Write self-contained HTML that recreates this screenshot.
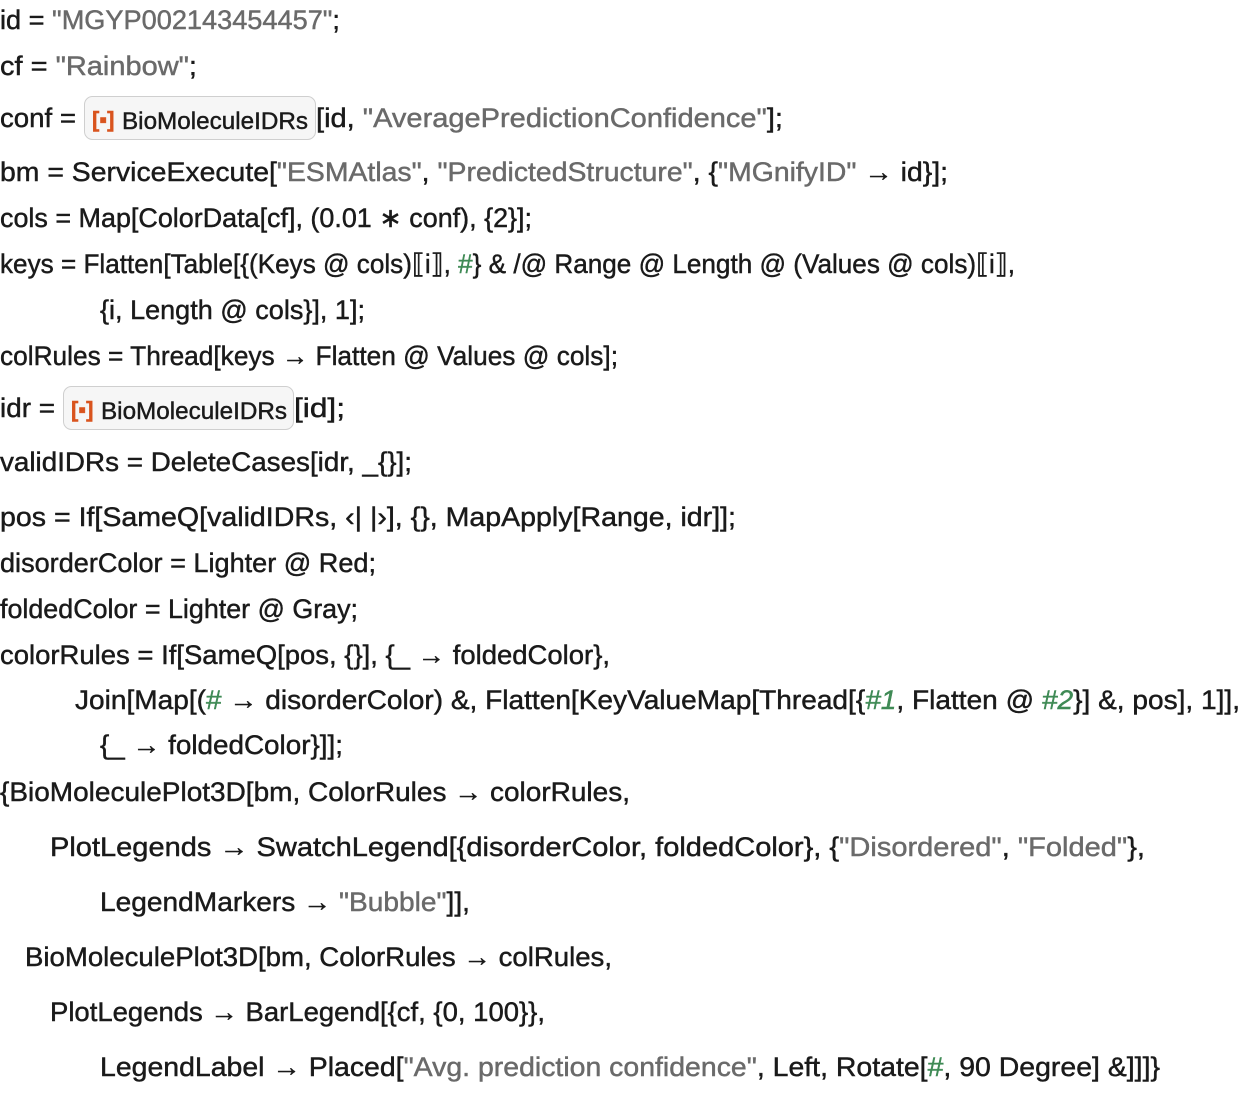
<!DOCTYPE html>
<html><head><meta charset="utf-8"><style>
html,body{margin:0;padding:0;background:#fff;width:1242px;height:1094px;overflow:hidden}
svg{display:block}
text{font-family:"Liberation Sans",sans-serif;font-size:27px;fill:#1a1a1a;stroke:#1a1a1a;stroke-width:0.45px}
.s{fill:#6a6a6a;stroke:#6a6a6a}
.g{fill:#3f8a55;stroke:#3f8a55;font-style:italic}
.gn{fill:#3f8a55;stroke:#3f8a55}
.b{font-size:24px}
.o{fill:#d9541e;stroke:#d9541e;font-size:22px;font-weight:bold}
</style></head><body>
<svg width="1242" height="1094" xmlns="http://www.w3.org/2000/svg">
<text x="0" y="29" textLength="340" lengthAdjust="spacingAndGlyphs">id = <tspan class="s">"MGYP002143454457"</tspan>;</text>
<text x="0" y="75" textLength="197" lengthAdjust="spacingAndGlyphs">cf = <tspan class="s">"Rainbow"</tspan>;</text>
<text x="0" y="127" textLength="76" lengthAdjust="spacingAndGlyphs">conf =</text>
<rect x="84.5" y="96.5" width="231" height="43" rx="8" fill="#f6f6f6" stroke="#cfcfcf"/>
<text x="92" y="127" class="o">[▪]</text>
<text x="122" y="129" class="b" textLength="186" lengthAdjust="spacingAndGlyphs">BioMoleculeIDRs</text>
<text x="316" y="127" textLength="467" lengthAdjust="spacingAndGlyphs">[id, <tspan class="s">"AveragePredictionConfidence"</tspan>];</text>
<text x="0" y="181" textLength="948" lengthAdjust="spacingAndGlyphs">bm = ServiceExecute[<tspan class="s">"ESMAtlas"</tspan>, <tspan class="s">"PredictedStructure"</tspan>, {<tspan class="s">"MGnifyID"</tspan> → id}];</text>
<text x="0" y="227" textLength="532" lengthAdjust="spacingAndGlyphs">cols = Map[ColorData[cf], (0.01 ∗ conf), {2}];</text>
<text x="0" y="273" textLength="1015" lengthAdjust="spacingAndGlyphs">keys = Flatten[Table[{(Keys @ cols)⟦i⟧, <tspan class="gn">#</tspan>} &amp; /@ Range @ Length @ (Values @ cols)⟦i⟧,</text>
<text x="100" y="319" textLength="265" lengthAdjust="spacingAndGlyphs">{i, Length @ cols}], 1];</text>
<text x="0" y="365" textLength="618" lengthAdjust="spacingAndGlyphs">colRules = Thread[keys → Flatten @ Values @ cols];</text>
<text x="0" y="417" textLength="55" lengthAdjust="spacingAndGlyphs">idr =</text>
<rect x="63.5" y="386.5" width="230" height="43" rx="8" fill="#f6f6f6" stroke="#cfcfcf"/>
<text x="71" y="417" class="o">[▪]</text>
<text x="101" y="419" class="b" textLength="186" lengthAdjust="spacingAndGlyphs">BioMoleculeIDRs</text>
<text x="294" y="417" textLength="51" lengthAdjust="spacingAndGlyphs">[id];</text>
<text x="0" y="471" textLength="412" lengthAdjust="spacingAndGlyphs">validIDRs = DeleteCases[idr, _{}];</text>
<text x="0" y="526" textLength="736" lengthAdjust="spacingAndGlyphs">pos = If[SameQ[validIDRs, ‹| |›], {}, MapApply[Range, idr]];</text>
<text x="0" y="572" textLength="376" lengthAdjust="spacingAndGlyphs">disorderColor = Lighter @ Red;</text>
<text x="0" y="618" textLength="358" lengthAdjust="spacingAndGlyphs">foldedColor = Lighter @ Gray;</text>
<text x="0" y="664" textLength="610" lengthAdjust="spacingAndGlyphs">colorRules = If[SameQ[pos, {}], {_ → foldedColor},</text>
<text x="75" y="709" textLength="1165" lengthAdjust="spacingAndGlyphs">Join[Map[(<tspan class="gn">#</tspan> → disorderColor) &amp;, Flatten[KeyValueMap[Thread[{<tspan class="g">#1</tspan>, Flatten @ <tspan class="g">#2</tspan>}] &amp;, pos], 1]],</text>
<text x="100" y="754" textLength="243" lengthAdjust="spacingAndGlyphs">{_ → foldedColor}]];</text>
<text x="0" y="801" textLength="630" lengthAdjust="spacingAndGlyphs">{BioMoleculePlot3D[bm, ColorRules → colorRules,</text>
<text x="50" y="856" textLength="1095" lengthAdjust="spacingAndGlyphs">PlotLegends → SwatchLegend[{disorderColor, foldedColor}, {<tspan class="s">"Disordered"</tspan>, <tspan class="s">"Folded"</tspan>},</text>
<text x="100" y="911" textLength="370" lengthAdjust="spacingAndGlyphs">LegendMarkers → <tspan class="s">"Bubble"</tspan>]],</text>
<text x="25" y="966" textLength="587" lengthAdjust="spacingAndGlyphs">BioMoleculePlot3D[bm, ColorRules → colRules,</text>
<text x="50" y="1021" textLength="495" lengthAdjust="spacingAndGlyphs">PlotLegends → BarLegend[{cf, {0, 100}},</text>
<text x="100" y="1076" textLength="1060" lengthAdjust="spacingAndGlyphs">LegendLabel → Placed[<tspan class="s">"Avg. prediction confidence"</tspan>, Left, Rotate[<tspan class="gn">#</tspan>, 90 Degree] &amp;]]]}</text>
</svg>
</body></html>
